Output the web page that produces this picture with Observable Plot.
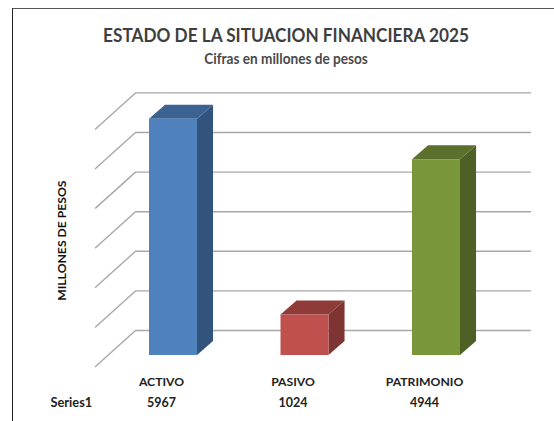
<!DOCTYPE html>
<html><head><meta charset="utf-8">
<script src="https://cdn.jsdelivr.net/npm/d3@7"></script>
<script src="https://cdn.jsdelivr.net/npm/@observablehq/plot@0.6"></script>
<style>
html,body{margin:0;padding:0;background:#fff;width:554px;height:421px;overflow:hidden}
#wrap{position:relative;width:554px;height:421px;font-family:Lato,sans-serif}
#frame{position:absolute;left:12px;top:8px;right:0;bottom:0;border-left:1.5px solid #222;border-top:1.5px solid #555}
#title{position:absolute;left:0;width:572px;top:24px;text-align:center;font-weight:700;font-size:18px;color:#3f3f3f;white-space:nowrap;transform:scaleX(.955)}
#sub{position:absolute;left:0;width:572px;top:50px;text-align:center;font-weight:700;font-size:14.2px;color:#4a4a4a;white-space:nowrap;transform:scaleX(.96)}
svg{position:absolute;left:0;top:0;display:block}
</style></head><body>
<div id="wrap"><div id="frame"></div>
<div id="title">ESTADO DE LA SITUACION FINANCIERA 2025</div>
<div id="sub">Cifras en millones de pesos</div>
</div>
<script>
const categories = ["ACTIVO", "PASIVO", "PATRIMONIO"];
const values = [5967, 1024, 4944];
const frontColors = ["#4f81bd", "#c0504d", "#7a963a"];
const sideColors = ["#32547c", "#7d3432", "#4e6025"];
const topColors = ["#3b6290", "#8e3b39", "#5b702c"];
const gridTicks = [0, 1000, 2000, 3000, 4000, 5000, 6000];
const rowLabel = "Series1";
const axisTitle = "MILLONES DE PESOS";

// depth projection, in data units
const halfW = 0.1825, barDX = 0.122, barDY = 354;
const wallFrontX = -0.593, wallBackX = -0.289, wallEndX = 2.715;
const wallFrontY = -278, wallBackY = 631;

const bars = categories.map((c, i) => ({c, i, v: values[i], front: frontColors[i], side: sideColors[i], top: topColors[i]}));
const sidePts = bars.flatMap(b => [
  {c: b.c, fill: b.side, x: b.i + halfW, y1: 0, y2: b.v},
  {c: b.c, fill: b.side, x: b.i + halfW + barDX, y1: barDY, y2: b.v + barDY}
]);
const topPts = bars.flatMap(b => [
  {c: b.c, fill: b.top, y: b.v, x1: b.i - halfW, x2: b.i + halfW},
  {c: b.c, fill: b.top, y: b.v + barDY, x1: b.i - halfW + barDX, x2: b.i + halfW + barDX}
]);
const wallLines = gridTicks.flatMap(t => [
  {t, x: wallFrontX, y: t + wallFrontY},
  {t, x: wallBackX, y: t + wallBackY},
  {t, x: wallEndX, y: t + wallBackY}
]);

const chart = Plot.plot({
  width: 554, height: 421, margin: 0,
  style: {background: "transparent"},
  x: {type: "linear", domain: [-1, 3], range: [41.5, 567.5], axis: null},
  y: {type: "linear", domain: [0, 6000], range: [355, 117.4], axis: null},
  marks: [
    Plot.line(wallLines, {x: "x", y: "y", z: "t", stroke: "#a8a8a8", strokeWidth: 1.4, curve: "linear"}),
    Plot.area(sidePts, {x1: "x", x2: "x", y1: "y1", y2: "y2", z: "c", fill: d => d.fill, curve: "linear"}),
    Plot.area(topPts, {y1: "y", y2: "y", x1: "x1", x2: "x2", z: "c", fill: d => d.fill, curve: "linear"}),
    Plot.rect(bars, {x1: d => d.i - halfW, x2: d => d.i + halfW, y1: () => 0, y2: "v", fill: "front"}),
    Plot.text(categories, {x: (d, i) => i, frameAnchor: "bottom", dy: -36, text: d => d, fontFamily: "Lato", fontWeight: 700, fontSize: 12.2, fill: "#222", dx: -12}),
    Plot.text(values, {x: (d, i) => i, frameAnchor: "bottom", dy: -15, text: d => String(d), fontFamily: "Lato", fontWeight: 700, fontSize: 12.5, fill: "#222", dx: -12}),
    Plot.text([rowLabel], {x: () => -0.777, frameAnchor: "bottom", dy: -15, text: d => d, fontFamily: "Lato", fontWeight: 700, fontSize: 12.8, fill: "#222"}),
    Plot.text([axisTitle], {x: () => -0.85, y: () => 2900, rotate: -90, text: d => d, fontFamily: "Lato", fontWeight: 700, fontSize: 12.2, fill: "#111"})
  ]
});
document.getElementById("wrap").appendChild(chart);
</script>
</body></html>
